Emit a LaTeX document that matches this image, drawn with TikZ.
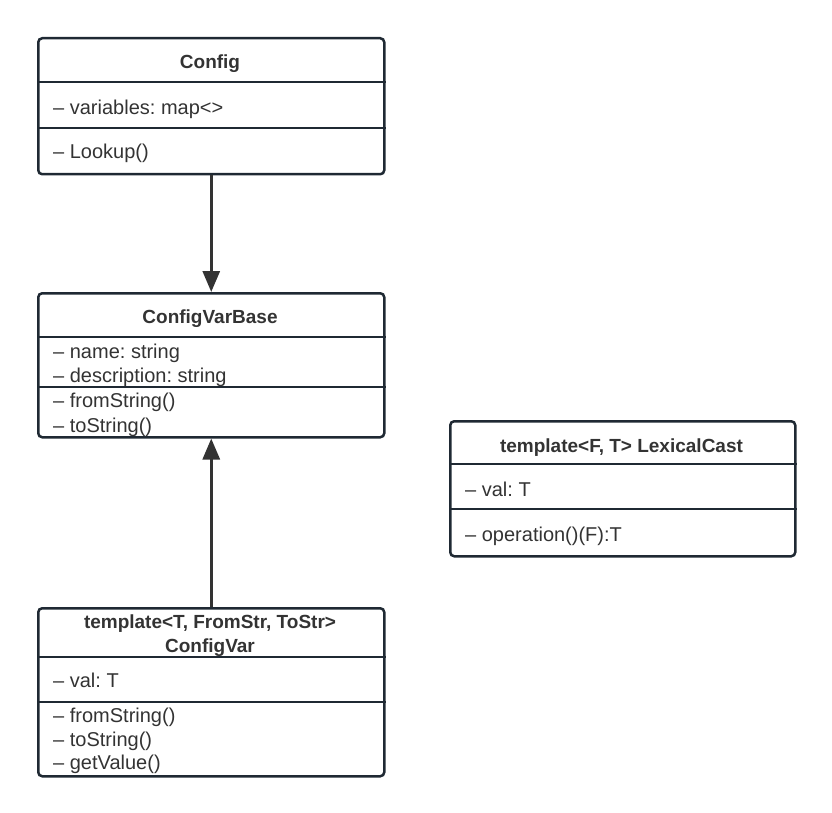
\documentclass[tikz,border=0pt]{standalone}
\usepackage{fontspec}
\setmainfont{Liberation Sans}
\usetikzlibrary{positioning,calc,arrows.meta}
\frenchspacing

\definecolor{umlline}{HTML}{1F2933}
\definecolor{umltext}{HTML}{333333}
\tikzset{
  umlbox/.style={draw=umlline,line width=2.5pt,rounded corners=4pt,inner sep=0pt,anchor=north west},
  sepline/.style={draw=umlline,line width=2.5pt},
  member/.style={anchor=base west,inner sep=0pt,text=umltext,font=\fontsize{20}{24}\selectfont},
  classname/.style={anchor=base,inner sep=0pt,text=umltext,font=\fontsize{19}{24}\selectfont\bfseries},
  inherit/.style={-{Triangle[length=21pt,width=17pt]},line width=3pt,draw=umltext}
}

\begin{document}
\begin{tikzpicture}[x=1pt,y=-1pt]
  \useasboundingbox (0,0) rectangle (832,813);
  % class boxes
  \node[umlbox,minimum width=346pt,minimum height=136pt] (cfg) at (37,37) {};
  \node[umlbox,minimum width=346pt,minimum height=144pt] (base) at (37,292) {};
  \node[umlbox,minimum width=346pt,minimum height=168pt] (var) at (37,607) {};
  \node[umlbox,minimum width=345pt,minimum height=135pt] (cast) at (449,420) {};
  \foreach \b/\y in {cfg/82,cfg/128,base/337,base/387,var/657,var/702,cast/464,cast/509}{%
    \draw[sepline] (\b.west |- 0,\y) -- (\b.east |- 0,\y);
  }
  % class names
  \node[classname] (cfg-name) at (210,69) {Config};
  \node[classname] (base-name) at (210,323) {ConfigVarBase};
  \node[classname] (var-name1) at (210,628) {template<T, FromStr, ToStr>};
  \node[classname] (var-name2) at (210,652) {ConfigVar};
  \node[classname] (cast-name) at (621.5,452) {template<F, T> LexicalCast};
  % members
  \foreach \n/\y/\txt in {v/115/{-- variables: map<>},l/159/{-- Lookup()}}{%
    \node[member] (cfg-\n) at (53,\y) {\txt};
  }
  \foreach \n/\y/\txt in {n/358/{-- name: string},d/382/{-- description: string},f/407/{-- fromString()},t/432/{-- toString()}}{%
    \node[member] (base-\n) at (53,\y) {\txt};
  }
  \foreach \n/\y/\txt in {v/687/{-- val: T},f/722/{-- fromString()},t/746/{-- toString()},g/769/{-- getValue()}}{%
    \node[member] (var-\n) at (53,\y) {\txt};
  }
  \foreach \n/\y/\txt in {v/496/{-- val: T},o/541/{-- operation()(F):T}}{%
    \node[member] (cast-\n) at (465,\y) {\txt};
  }
  % relations
  \draw[inherit] (cfg) -- (base);
  \draw[inherit] (var) -- (base);
\end{tikzpicture}
\end{document}
